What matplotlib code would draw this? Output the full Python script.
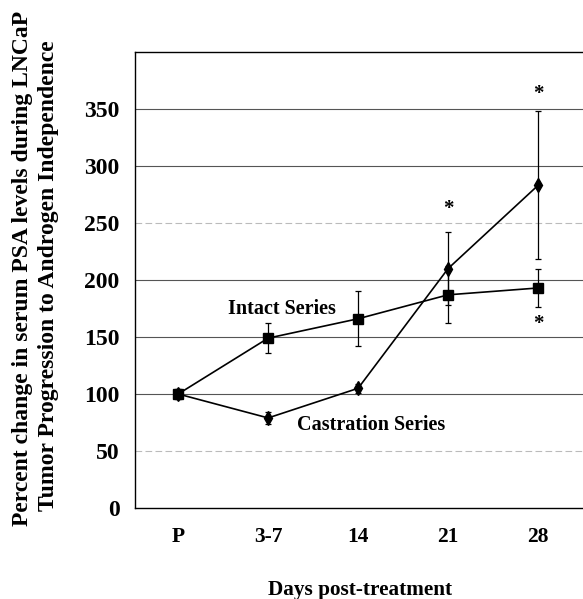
import numpy as np
from matplotlib import pyplot as plt

days = ["P", "3-7", "14", "21", "28"]

intact_mean = [100, 149, 166, 187, 193]
intact_err = [4, 13, 24, 25, 17]

castration_mean = [100, 79, 105, 210, 283]
castration_err = [4, 5, 4, 32, 65]

# asterisks: (day index, y)
star_idx = [3, 4, 4]
star_y = [262, 363, 161]

yticks = [0, 50, 100, 150, 200, 250, 300, 350]

plt.rcParams['font.family'] = ['Liberation Serif', 'DejaVu Serif']
plt.rcParams['font.weight'] = 'bold'

fig = plt.figure(figsize=(5.83, 5.99), dpi=100)
ax = fig.add_axes([135 / 583, 1 - 508 / 599, 1 - 135 / 583, 456 / 599])

x = np.arange(len(days))

for y in yticks[1:]:
    faint = y in (50, 250)
    ax.axhline(y, color='#bbbbbb' if faint else '#555555',
               lw=0.8, ls=(0, (6, 3)) if faint else '-', zorder=1)

ax.errorbar(x, intact_mean, yerr=intact_err, color='black', lw=1.2,
            marker='s', markersize=7, elinewidth=0.9, capsize=2.5,
            capthick=0.9, zorder=3)
ax.errorbar(x, castration_mean, yerr=castration_err, color='black', lw=1.2,
            marker='d', markersize=7, elinewidth=0.9, capsize=2.5,
            capthick=0.9, zorder=3)

for i, y in zip(star_idx, star_y):
    ax.text(x[i], y, '*', ha='center', va='center', fontsize=15)

ax.text(1.15, 175, 'Intact Series', ha='center', va='center', fontsize=14.5)
ax.text(2.15, 73, 'Castration Series', ha='center', va='center', fontsize=14.5)

ax.set_xlim(-0.48, 4.5)
ax.set_ylim(0, 400)
ax.set_xticks(x)
ax.set_xticklabels(days)
ax.set_yticks(yticks)
ax.tick_params(length=0)
ax.tick_params(axis='y', labelsize=17, pad=11)
ax.tick_params(axis='x', labelsize=15.5, pad=14)
ax.spines['right'].set_visible(False)
for s in ('left', 'top', 'bottom'):
    ax.spines[s].set_linewidth(1.0)

fig.text(360 / 583, 1 - 590 / 599, 'Days post-treatment', ha='center',
         va='center', fontsize=15.3)
fig.text(23 / 583, 1 - 268 / 599,
         'Percent change in serum PSA levels during LNCaP',
         rotation=90, ha='center', va='center', fontsize=17)
fig.text(49 / 583, 1 - 276 / 599,
         'Tumor Progression to Androgen Independence',
         rotation=90, ha='center', va='center', fontsize=17)

plt.savefig('out.png', dpi=100)
